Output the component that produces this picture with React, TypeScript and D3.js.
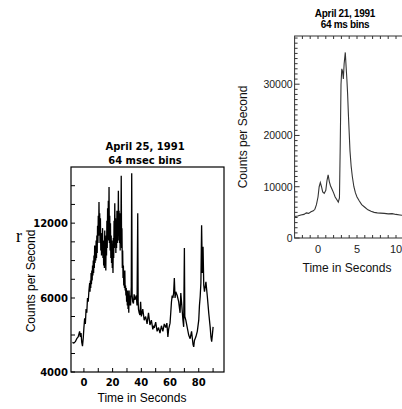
import React from "react";
import * as d3 from "d3";

// April 25, 1991 — time (s), counts/s
const leftTimes = [
  -8, -7, -6, -5, -4, -3, -2.5, -2, -1.5, -1, -0.5, 0, 0.5, 1, 1.5, 2, 2.5, 3, 3.5,
  4, 4.25, 4.5, 4.75, 5, 5.25, 5.5, 5.75, 6, 6.25, 6.5, 6.75, 7, 7.25, 7.5, 7.75, 8, 8.25, 8.5, 8.75, 9, 9.25, 9.5, 9.75,
  10, 10.25, 10.5, 10.75, 11, 11.25, 11.5, 11.75, 12, 12.25, 12.5, 12.75, 13, 13.25, 13.5, 13.75, 14, 14.25, 14.5, 14.75,
  15, 15.25, 15.5, 15.75, 16, 16.25, 16.5, 16.75, 17, 17.25, 17.5, 17.75, 18, 18.25, 18.5, 18.75, 19, 19.25, 19.5, 19.75,
  20, 20.25, 20.5, 20.75, 21, 21.25, 21.5, 21.75, 22, 22.25, 22.5, 22.75, 23, 23.25, 23.5, 23.75, 24, 24.25, 24.5, 24.75,
  25, 25.25, 25.5, 25.75, 26, 26.25, 26.5, 26.75, 27, 27.25, 27.5, 27.75, 28, 28.25, 28.5, 28.75, 29, 29.25, 29.5, 29.75,
  30, 30.25, 30.5, 30.75, 31, 31.25, 31.5, 31.75, 32, 32.5, 33, 33.3, 33.6, 34, 34.5, 35,
  35.5, 36, 36.5, 37, 37.5, 37.8, 38, 38.5, 39, 39.5, 40, 41, 42, 43, 44, 45, 46, 47, 48, 48.5, 49, 50, 51, 52, 53, 54, 55, 56, 57,
  57.8, 58.5, 59, 60, 60.5, 61, 61.5, 62, 62.5, 63, 63.5, 64, 65, 66, 67, 67.5, 68, 69, 69.5, 70, 70.3, 71, 72, 73, 74, 75, 76, 76.5,
  77, 78, 79, 80, 80.5, 81, 81.5, 82, 82.5, 83, 83.5, 84, 85, 86, 87, 88, 88.5, 89, 89.5, 90,
];
const leftCounts = [
  4800, 4780, 4820, 4900, 4950, 5100, 4950, 5050, 4800, 4700, 4900, 5200, 5450, 5300, 5700, 5600, 6000, 5900, 6600,
  7200, 6500, 7400, 6800, 8000, 7100, 8200, 7400, 8600, 7800, 9000, 8000, 9400, 8400, 10200, 8800, 10000, 9000, 10600, 9200, 11000, 9600, 11800, 10400,
  12600, 11000, 13700, 11200, 12800, 10400, 12400, 9800, 11200, 9400, 11000, 9600, 11600, 9200, 10600, 8600, 10200, 8400, 11400, 8800,
  10400, 8200, 11000, 9400, 12200, 10000, 13200, 10800, 13800, 10600, 14900, 10400, 12600, 9800, 12000, 9200, 11000, 8800, 10600, 8400,
  9600, 8000, 10800, 9200, 12200, 10000, 13600, 10800, 12400, 9600, 11800, 10000, 13000, 10400, 12200, 10600, 14600, 11200, 13000, 10400,
  12800, 9800, 12000, 10800, 15800, 10000, 11600, 8400, 9800, 7600, 8600, 7000, 7600, 6800, 8200, 6600, 7000, 6200, 6800, 5900,
  6400, 5800, 6600, 5700, 6200, 5600, 6600, 5800, 6200, 5800, 6900, 16000, 6200, 5900, 5850, 6300,
  5950, 6000, 6200, 5800, 12800, 5900, 5700, 5600, 5540, 5900, 5500, 5700, 5400, 5500, 5300, 5600, 5270, 5400, 5150, 5250, 5190,
  5350, 5100, 5200, 5050, 5250, 5100, 5300, 5200, 5320, 4950, 5150, 5320, 5600, 5900, 6200, 6000, 6400, 7600, 6000, 6500, 6200, 5900,
  5600, 6400, 5900, 5400, 5220, 10000, 5500, 5400, 5200, 5000, 4900, 5100, 4750, 4680, 4850, 4950, 5100, 5400, 5800, 6100, 7200,
  11840, 8000, 10100, 7000, 6500, 7300, 6100, 5580, 5200, 4950, 4820, 5000, 5220,
];
const leftYLabels = [4000, 6000, 12000];
const leftYTicks = [4000, 4500, 5000, 5500, 6000, 7500, 9000, 10500, 12000, 13500, 15000];
const leftXTicks = [0, 10, 20, 30, 40, 50, 60, 70, 80, 90];
const leftXLabels = [0, 20, 40, 60, 80];

// April 21, 1991 — time (s), counts/s
const rightTimes = [
  -3, -2.6, -2.2, -1.8, -1.5, -1.2, -0.9, -0.6, -0.4, -0.2, 0, 0.15, 0.3, 0.45, 0.6, 0.8, 1, 1.15, 1.3, 1.45, 1.6, 1.8, 2, 2.2, 2.4,
  2.6, 2.75, 2.85, 2.95, 3.05, 3.15, 3.25, 3.35, 3.45, 3.5, 3.6, 3.7, 3.8, 3.9, 4, 4.1, 4.25, 4.4, 4.6, 4.8, 5, 5.3, 5.6, 6, 6.4, 6.8,
  7.2, 7.6, 8, 8.5, 9, 9.5, 10, 10.5, 11,
];
const rightCounts = [
  4200, 4300, 4500, 4600, 4900, 4800, 5100, 5300, 5600, 6500, 8000, 10000, 10800, 10000, 9000, 8700, 9300, 11200, 12300, 11000, 10200,
  9500, 8800, 8000, 7500, 7000, 7800, 18000, 30000, 33000, 32500, 31000, 34000, 35500, 36200, 33500, 31000, 28000, 24000, 20500, 17000,
  14000, 12000, 10000, 8800, 8000, 7200, 6500, 6000, 5500, 5200, 5000, 4900, 4850, 4800, 4700, 4750, 4600, 4500, 4400,
];
const rightYLabels = [0, 10000, 20000, 30000];
const rightYTicks = d3.range(0, 40000, 1000);
const rightXTicks = d3.range(-2, 11, 1);
const rightXLabels = [0, 5, 10];

const boldFont = "'DejaVu Sans', sans-serif";
const helv = "'Liberation Sans', Arial, sans-serif";

export default function App() {
  // left panel
  const lx = d3.scaleLinear().domain([-9, 97.6]).range([71, 224]);
  const ly = d3.scaleLinear().domain([4000, 6000, 16500]).range([372, 298, 167]);
  const leftData = leftTimes.map((t, i) => [t, leftCounts[i]] as [number, number]);
  const leftLine = d3.line<[number, number]>().x((d) => lx(d[0])).y((d) => ly(d[1]));

  // right panel
  const rx = d3.scaleLinear().domain([-3, 11]).range([294.6, 403.8]);
  const ry = d3.scaleLinear().domain([0, 39400]).range([238, 36]);
  const rightData = rightTimes.map((t, i) => [t, rightCounts[i]] as [number, number]);
  const rightLine = d3.line<[number, number]>().x((d) => rx(d[0])).y((d) => ry(d[1]));

  const [lx0, lx1] = lx.range();
  const ly0 = ly(4000);
  const ly1 = ly(16500);
  const [rx0, rx1] = rx.range();
  const [ry0, ry1] = ry.range();

  return (
    <svg
      width={402}
      height={409}
      style={{ position: "absolute", left: 0, top: 0, background: "#fff" }}
    >
      <rect width={402} height={409} fill="#fff" />
      <defs>
        <clipPath id="clipL">
          <rect x={lx0} y={ly1} width={lx1 - lx0} height={ly0 - ly1} />
        </clipPath>
        <clipPath id="clipR">
          <rect x={rx0} y={ry1} width={rx1 - rx0} height={ry0 - ry1} />
        </clipPath>
      </defs>

      {/* stray character from the page */}
      <text x={16} y={242} fontFamily="'Liberation Serif', serif" fontSize={18} fill="#000">
        r
      </text>

      {/* ===== left chart ===== */}
      <text x={145} y={150} textAnchor="middle" fontFamily={boldFont} fontWeight="bold" fontSize={10}>
        April 25, 1991
      </text>
      <text x={145} y={164} textAnchor="middle" fontFamily={boldFont} fontWeight="bold" fontSize={10}>
        64 msec bins
      </text>

      <g clipPath="url(#clipL)">
        <path d={leftLine(leftData) || ""} fill="none" stroke="#000" strokeWidth={1.3} strokeLinejoin="bevel" />
      </g>
      <rect x={lx0} y={ly1} width={lx1 - lx0} height={ly0 - ly1} fill="none" stroke="#000" strokeWidth={1.2} />

      {leftYTicks.map((v) => (
        <line key={"ly" + v} x1={lx0} x2={lx0 + 4} y1={ly(v)} y2={ly(v)} stroke="#000" strokeWidth={1} />
      ))}
      {leftYLabels.map((v) => (
        <text
          key={"lyl" + v}
          x={lx0 - 3}
          y={ly(v) + 3.5}
          textAnchor="end"
          fontFamily={boldFont}
          fontWeight="bold"
          fontSize={10}
        >
          {v}
        </text>
      ))}
      {leftXTicks.map((v) => (
        <line key={"lx" + v} x1={lx(v)} x2={lx(v)} y1={ly0} y2={ly0 - 4} stroke="#000" strokeWidth={1} />
      ))}
      {leftXLabels.map((v) => (
        <text
          key={"lxl" + v}
          x={lx(v)}
          y={ly0 + 14}
          textAnchor="middle"
          fontFamily={boldFont}
          fontWeight="bold"
          fontSize={10}
        >
          {v}
        </text>
      ))}
      <text
        transform="translate(35,281) rotate(-90)"
        textAnchor="middle"
        fontFamily={helv}
        fontSize={12}
      >
        Counts per Second
      </text>
      <text x={142} y={402} textAnchor="middle" fontFamily={helv} fontSize={12}>
        Time in Seconds
      </text>

      {/* ===== right chart ===== */}
      <text x={345} y={17} textAnchor="middle" fontFamily={helv} fontWeight="bold" fontSize={10} letterSpacing={-0.3}>
        April 21, 1991
      </text>
      <text x={345} y={28} textAnchor="middle" fontFamily={helv} fontWeight="bold" fontSize={10} letterSpacing={-0.3}>
        64 ms bins
      </text>

      <g clipPath="url(#clipR)">
        <path d={rightLine(rightData) || ""} fill="none" stroke="#333" strokeWidth={1.1} />
      </g>
      <rect x={rx0} y={ry1} width={rx1 - rx0} height={ry0 - ry1} fill="none" stroke="#333" strokeWidth={1} />

      {rightYTicks.map((v) => (
        <line
          key={"ry" + v}
          x1={rx0}
          x2={rx0 + (v % 10000 === 0 ? 5 : 3)}
          y1={ry(v)}
          y2={ry(v)}
          stroke="#333"
          strokeWidth={1}
        />
      ))}
      {rightYLabels.map((v) => (
        <text key={"ryl" + v} x={rx0 - 2} y={ry(v) + 4} textAnchor="end" fontFamily={helv} fontSize={10.5} fill="#222">
          {v}
        </text>
      ))}
      {rightXTicks.map((v) => (
        <g key={"rx" + v}>
          <line x1={rx(v)} x2={rx(v)} y1={ry0} y2={ry0 - 3} stroke="#333" strokeWidth={1} />
          <line x1={rx(v)} x2={rx(v)} y1={ry1} y2={ry1 + 3} stroke="#333" strokeWidth={1} />
        </g>
      ))}
      {rightXLabels.map((v) => (
        <text key={"rxl" + v} x={rx(v)} y={ry0 + 15} textAnchor="middle" fontFamily={helv} fontSize={11} fill="#222">
          {v}
        </text>
      ))}
      <text
        transform={`translate(247,${(ry0 + ry1) / 2}) rotate(-90)`}
        textAnchor="middle"
        fontFamily={helv}
        fontSize={12}
        fill="#111"
      >
        Counts per Second
      </text>
      <text x={347} y={272} textAnchor="middle" fontFamily={helv} fontSize={12} fill="#111">
        Time in Seconds
      </text>
    </svg>
  );
}
